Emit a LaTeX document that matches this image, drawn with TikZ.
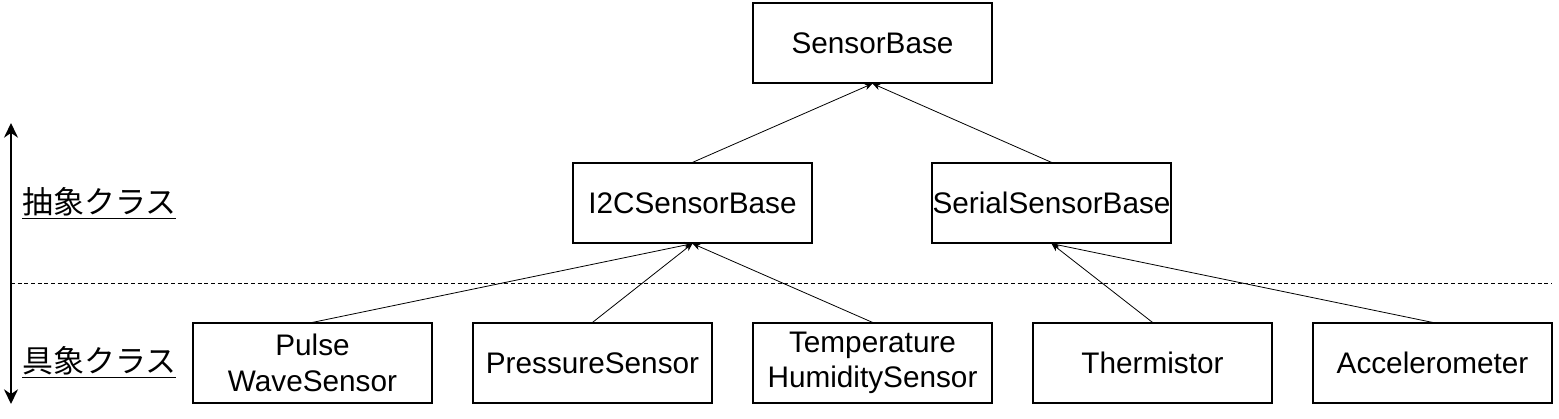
\documentclass[tikz,border=0pt]{standalone}
\usepackage{fontspec}
\setmainfont{Liberation Sans}
\newfontfamily\jpfont{Noto Sans CJK JP}
\usetikzlibrary{arrows.meta}
\tikzset{
  cls/.style={draw=black, line width=0.9pt, minimum width=179.25pt, minimum height=60pt,
    inner sep=0pt, align=center, font=\fontsize{22.3}{26.5}\selectfont},
  inh/.style={draw=black, line width=0.6pt, -{Stealth[length=6pt,width=5pt]}},
  lvl/.style={draw=black, line width=1.5pt, {Stealth[length=11pt,width=10.5pt]}-{Stealth[length=11pt,width=10.5pt]}},
  tier/.style={anchor=west, inner sep=0pt, font=\jpfont\fontsize{23.2}{27}\selectfont},
}
\begin{document}
\begin{tikzpicture}[x=0.75pt,y=-0.75pt]
\useasboundingbox (0,0) rectangle (1559,418);
\node[cls] (base) at (872.5,43) {SensorBase};
\node[cls] (i2c) at (692.5,203) {I2CSensorBase};
\node[cls] (ser) at (1051.5,203) {SerialSensorBase};
\node[cls] (pulse) at (312.5,363) {Pulse\\WaveSensor};
\node[cls] (press) at (592.5,363) {PressureSensor};
\node[cls] (temp) at (872.5,363) {Temperature\\HumiditySensor};
\node[cls] (therm) at (1152.5,363) {Thermistor};
\node[cls] (acc) at (1432.5,363) {Accelerometer};
\draw[inh] (i2c.north) -- (base.south);
\draw[inh] (ser.north) -- (base.south);
\draw[inh] (pulse.north) -- (i2c.south);
\draw[inh] (press.north) -- (i2c.south);
\draw[inh] (temp.north) -- (i2c.south);
\draw[inh] (therm.north) -- (ser.south);
\draw[inh] (acc.north) -- (ser.south);
\coordinate (atop) at (11,123);
\coordinate (abot) at (11,404);
\draw[lvl] (atop) -- (abot);
\coordinate (dl) at (11,283);
\coordinate (dr) at (1552,283);
\draw[line width=0.6pt, dash pattern=on 3pt off 2pt] (dl) -- (dr);
\node[tier] (abs) at (22,203) {\underline{抽象クラス}};
\node[tier] (con) at (22,362) {\underline{具象クラス}};
\end{tikzpicture}
\end{document}
